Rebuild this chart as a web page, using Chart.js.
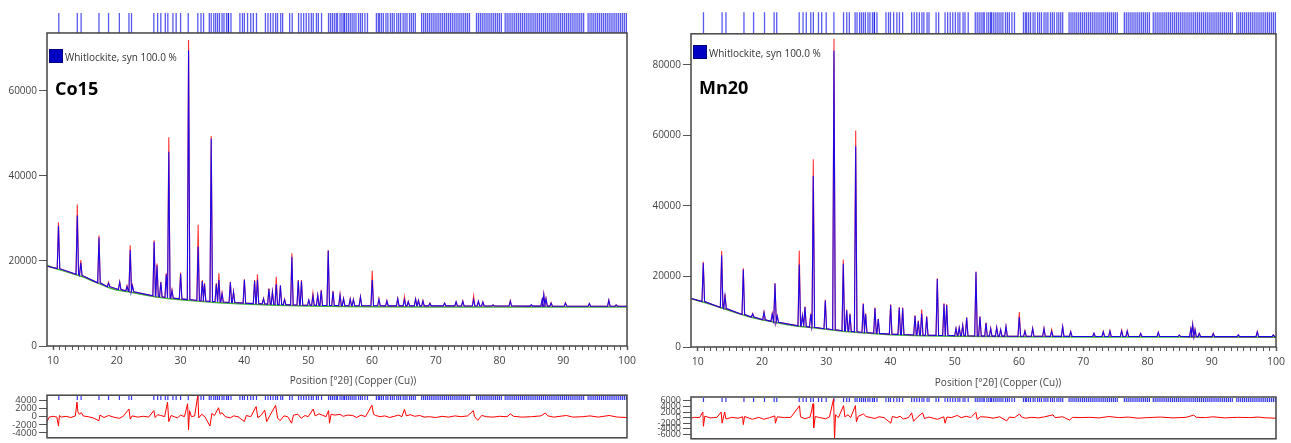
<!DOCTYPE html>
<html>
<head>
<meta charset="utf-8">
<script src="https://cdn.jsdelivr.net/npm/chart.js@4.4.1/dist/chart.umd.min.js"></script>
<style>
  body { margin: 0; background: #fff; }
  #page { position: relative; width: 1291px; height: 443px; overflow: hidden; font-family: 'Open Sans', sans-serif; }
  canvas { position: absolute; }
  .legbox { position: absolute; width: 12px; height: 12px; background: #0000c4; border: 1px solid #00007a; }
  .legtxt { position: absolute; font-size: 10px; color: #333; line-height: 14px; white-space: nowrap; }
  .name { position: absolute; font-size: 18px; font-weight: bold; color: #000; line-height: 22px; }
  .xtitle { position: absolute; font-size: 10px; color: #444; line-height: 14px; white-space: nowrap; transform: translateX(-50%); }
</style>
</head>
<body>
<div id="page">
  <canvas id="coMain" width="640" height="392" style="left:0px;top:0px"></canvas>
  <canvas id="coDiff" width="640" height="53" style="left:0px;top:390px"></canvas>
  <canvas id="mnMain" width="651" height="393" style="left:640px;top:0px"></canvas>
  <canvas id="mnDiff" width="651" height="54" style="left:640px;top:390px"></canvas>

  <div class="legbox" style="left:49px;top:49px"></div>
  <div class="legtxt" style="left:65px;top:50px">Whitlockite, syn 100.0 %</div>
  <div class="name" style="left:55px;top:77px">Co15</div>
  <div class="xtitle" style="left:353px;top:373px">Position [°2θ] (Copper (Cu))</div>

  <div class="legbox" style="left:693px;top:45px"></div>
  <div class="legtxt" style="left:709px;top:46px">Whitlockite, syn 100.0 %</div>
  <div class="name" style="left:699px;top:76px">Mn20</div>
  <div class="xtitle" style="left:998px;top:375px">Position [°2θ] (Copper (Cu))</div>
</div>

<script>
//---------- data

// x axis labels (°2θ)
const xLabels = [10, 20, 30, 40, 50, 60, 70, 80, 90, 100];
const coYTicks = [0, 20000, 40000, 60000];
const mnYTicks = [0, 20000, 40000, 60000, 80000];
const coDiffTicks = [4000, 2000, 0, -2000, -4000];
const mnDiffTicks = [6000, 4000, 2000, 0, -2000, -4000, -6000];

// Whitlockite reflection positions (°2θ)
const refPos = [
  10.9, 13.8, 14.4, 17.2, 18.7, 20.4, 21.9, 22.3, 25.8, 26.4, 26.9, 27.6, 28.0, 28.8, 29.3, 30.0, 31.2, 32.7, 33.2, 33.6,
  34.5, 34.8, 35.2, 35.5, 35.8, 36.1, 36.5, 36.8, 37.2, 37.5, 37.5, 37.9, 39.3, 39.7, 40.0, 40.5, 41.0, 41.4, 41.9,
  43.3, 43.7, 44.1, 44.5, 44.9, 45.2, 45.7, 46.0, 47.1, 47.5, 48.5, 48.9, 49.3, 49.7, 50.1, 50.5, 50.8, 51.3, 51.6, 52.1,
  53.2, 53.5, 53.8, 54.1, 54.4, 54.6, 55.0, 55.3, 55.6, 55.7, 56.0, 56.3, 56.6, 56.9, 57.2, 57.5, 57.9, 58.2, 58.5, 58.9, 59.3,
  60.7, 61.0, 61.2, 61.5, 61.8, 62.2, 62.5, 62.9, 63.2, 63.5, 63.9, 64.2, 64.5, 64.9, 65.2, 65.5, 65.9, 66.2, 66.5, 66.8,
  67.8, 68.1, 68.4, 68.7, 69.0, 69.3, 69.6, 69.9, 70.2, 70.5, 70.8, 71.1, 71.4, 71.7, 72.0, 72.3, 72.6, 72.9, 73.2, 73.5,
  73.8, 74.1, 74.4, 74.7, 75.0, 75.3, 76.4, 76.7, 77.0, 77.3, 77.6, 77.9, 78.2, 78.5, 78.8, 79.1, 79.4, 79.7, 80.0, 80.3,
  80.9, 81.2, 81.5, 81.8, 82.1, 82.4, 82.7, 83.0, 83.3, 83.6, 83.9, 84.2, 84.5, 84.8, 85.1, 85.4, 85.7, 86.0, 86.3, 86.6,
  86.9, 87.2, 87.5, 87.8, 88.1, 88.4, 88.7, 89.0, 89.3, 89.6, 89.9, 90.2, 90.5, 90.8, 91.1, 91.4, 91.7, 92.0, 92.3, 92.6,
  92.9, 93.2, 93.9, 94.2, 94.5, 94.8, 95.1, 95.4, 95.7, 96.0, 96.3, 96.6, 96.9, 97.2, 97.5, 97.8, 98.1, 98.4, 98.7, 99.0,
  99.3, 99.6, 99.9
];

// Co15 peaks: [2θ, observed, calculated, foot]
const coPeaks = [
  [9.05, 18700, 18700, 18700],
  [10.85, 29100, 28300, 18200], [13.8, 33300, 30700, 16870], [14.35, 20200, 19600, 16600], [17.2, 26000, 25500, 14860],
  [18.7, 15000, 14800, 13960], [20.45, 15100, 15000, 13270], [21.6, 14200, 14000, 12980], [22.1, 23700, 22600, 12850],
  [22.45, 14300, 14100, 12750], [25.85, 24900, 24500, 11820], [26.3, 19400, 19000, 11720], [26.9, 15100, 15000, 11600],
  [27.75, 17100, 16800, 11430], [28.15, 49100, 45700, 11360], [28.65, 13200, 13000, 11280], [30.0, 17300, 17000, 11080],
  [31.25, 72000, 69600, 10910], [32.75, 28500, 23400, 10710], [33.4, 15500, 15300, 10640], [33.75, 14800, 14600, 10600],
  [34.8, 49400, 48800, 10500], [35.6, 14800, 14500, 10420], [36.0, 17100, 15500, 10380], [36.5, 12500, 12300, 10340],
  [37.8, 15100, 15000, 10245], [38.3, 12800, 12700, 10210], [40.0, 15700, 15600, 10080], [41.6, 15500, 15300, 9980],
  [42.05, 16900, 15600, 9955], [43.0, 11200, 11100, 9900], [43.85, 13600, 13400, 9850], [44.4, 12800, 12700, 9820],
  [45.0, 16300, 14500, 9780], [45.65, 14300, 14200, 9755], [46.3, 11000, 10900, 9730], [47.45, 21800, 21000, 9680],
  [48.45, 15500, 15400, 9640], [48.95, 15500, 15300, 9620], [50.1, 10800, 10800, 9580], [50.75, 12400, 11800, 9570],
  [51.5, 12000, 11900, 9560], [52.05, 13200, 13000, 9550], [53.15, 22600, 22400, 9540], [53.9, 13000, 12800, 9530],
  [55.0, 12200, 12000, 9500], [55.55, 11200, 11100, 9500], [56.6, 11100, 11000, 9480], [57.1, 11000, 10900, 9480],
  [58.2, 11600, 11500, 9470], [60.05, 17700, 15500, 9460], [61.1, 11100, 11000, 9460], [62.35, 10700, 10600, 9450],
  [64.05, 11200, 11100, 9450], [65.1, 11600, 10900, 9450], [65.7, 10500, 10400, 9450], [66.85, 11100, 11000, 9450],
  [67.3, 10800, 10700, 9450], [68.0, 10700, 10600, 9440], [69.1, 10100, 10000, 9440], [71.4, 10100, 10100, 9430],
  [73.2, 10400, 10400, 9430], [74.25, 10600, 10500, 9420], [75.95, 11800, 10900, 9420], [76.7, 10500, 10500, 9420],
  [77.4, 10400, 10300, 9420], [79.0, 9700, 9650, 9400], [81.7, 10700, 10500, 9400], [85.0, 9700, 9700, 9380],
  [86.7, 11000, 10900, 9380], [86.95, 12200, 12100, 9380], [87.3, 11200, 11100, 9380], [88.1, 10200, 10100, 9380],
  [90.35, 10200, 10100, 9370], [94.1, 10000, 10000, 9360], [97.15, 10800, 10800, 9350], [98.3, 9700, 9650, 9350],
  [100, 9350, 9350, 9350]
];

// Co15 background: [2θ, counts]
const coBg = [
  [9.05, 19000], [10, 18400], [12, 17500], [14, 16600], [15, 16100], [16, 15400], [17, 14800], [18, 14200],
  [19, 13600], [20, 13200], [22, 12700], [24, 12100], [26, 11600], [28, 11200], [30, 10900], [33, 10500],
  [36, 10200], [40, 9900], [45, 9600], [50, 9400], [55, 9300], [60, 9250], [70, 9200], [80, 9200], [90, 9150], [100, 9150]
];

// Co15 difference curve: [2θ, counts]
const coDiff = [
  [9.05, -1200], [9.4, -100], [10.0, 100], [10.6, -100], [10.85, -2300], [11.0, 300], [11.3, -100], [12.0, 100],
  [12.8, -200], [13.5, 200], [13.75, 3600], [13.9, 1200], [14.1, 600], [14.45, 1000], [14.7, 200], [15.5, 0],
  [16.3, -300], [17.2, -1000], [17.35, 400], [18.0, -200], [18.7, 300], [19.5, -100], [20.4, -400], [21.0, 100],
  [21.9, 1900], [22.1, -600], [22.4, 200], [23.3, -100], [24.2, 100], [25.0, -100], [25.8, 1500], [26.0, -200],
  [26.4, 500], [26.9, 300], [27.5, 0], [27.95, 3600], [28.15, -1200], [28.5, 300], [29.0, 0], [29.5, -300],
  [30.0, 400], [30.6, 0], [31.1, 3200], [31.25, -3200], [31.4, 1500], [31.7, 0], [32.2, 200], [32.7, 5300],
  [32.85, -300], [33.3, 600], [33.8, 0], [34.6, -2300], [34.9, 800], [35.3, 300], [35.95, 2200], [36.2, 600],
  [36.5, 1000], [37.0, 0], [37.8, -300], [38.3, 200], [39.0, 0], [40.0, -1200], [40.3, 300], [41.0, 0],
  [41.85, 2500], [42.1, -200], [42.6, 300], [43.2, 1600], [43.5, -1200], [44.0, 300], [44.9, 2800], [45.2, -300],
  [45.6, -1000], [46.2, 200], [46.8, 0], [47.4, -1600], [47.7, 400], [48.4, 600], [48.9, -400], [49.5, 300],
  [50.0, 0], [50.8, 1900], [51.1, 200], [51.7, 700], [52.2, 400], [52.8, 0], [53.2, 1500], [53.35, -1600],
  [53.6, 600], [54.2, 400], [55.0, 600], [55.5, 100], [56.2, 400], [57.0, 300], [57.6, -200], [58.3, 400],
  [59.0, 0], [60.0, 2850], [60.25, 600], [60.6, 300], [61.3, 0], [62.0, 200], [62.8, -200], [63.5, 100],
  [64.2, 400], [64.7, 0], [65.1, 1800], [65.4, 200], [66.0, 500], [66.7, 100], [67.5, 300], [68.2, -100],
  [69.0, 0], [70.0, -200], [71.0, 100], [72.0, -100], [73.0, 200], [74.0, 0], [75.0, 200], [75.9, 1500],
  [76.1, 0], [76.6, -900], [77.2, 300], [78.0, 0], [79.0, -100], [80.0, 100], [81.2, 0], [81.7, 700],
  [82.2, 100], [83.5, -100], [85.0, 0], [86.5, 200], [87.2, 900], [87.6, 200], [88.5, -100], [89.5, 100],
  [90.5, 300], [91.5, -100], [93.0, 0], [94.2, 200], [95.5, -100], [97.2, 300], [98.5, -100], [100, -200]
];

// Mn20 peaks: [2θ, observed, calculated, foot]
const mnPeaks = [
  [8.96, 13700, 13700, 13700],
  [10.87, 24200, 23800, 12870], [13.73, 27300, 26000, 11210], [14.25, 15100, 14500, 10900], [17.1, 22300, 22000, 9200],
  [18.56, 9500, 9400, 8500], [20.32, 9900, 9800, 7740], [21.6, 9500, 9300, 7290], [22.03, 18100, 18000, 7140],
  [22.39, 8800, 8700, 7010], [25.81, 27300, 23400, 6000], [26.3, 9000, 8800, 5900], [26.7, 11500, 11300, 5830],
  [27.6, 9500, 9300, 5670], [27.99, 53200, 48500, 5600], [29.86, 13400, 13200, 5180], [31.21, 87400, 84000, 4910],
  [32.66, 24800, 23600, 4620], [33.19, 10600, 10400, 4520], [33.7, 9500, 9300, 4450], [34.59, 61400, 56900, 4310],
  [35.77, 12400, 12200, 4130], [36.14, 9500, 9300, 4080], [37.59, 11200, 11000, 3920], [38.1, 8000, 7900, 3860],
  [40.03, 12100, 11900, 3650], [41.37, 11300, 11100, 3570], [41.9, 11200, 11000, 3540], [43.82, 9000, 8800, 3420],
  [44.33, 7500, 7300, 3390], [44.86, 10600, 9500, 3360], [45.64, 8700, 8600, 3330], [47.29, 19500, 19300, 3290],
  [48.33, 12400, 12200, 3270], [48.75, 12100, 11900, 3260], [50.2, 5300, 5200, 3220], [50.7, 5500, 5400, 3210],
  [51.24, 6200, 6100, 3200], [51.86, 8400, 8300, 3180], [53.31, 21400, 21200, 3140], [53.93, 8700, 8600, 3130],
  [54.87, 6900, 6800, 3100], [55.6, 5300, 5200, 3090], [56.53, 5600, 5500, 3080], [57.15, 5000, 4900, 3080],
  [57.98, 5900, 5800, 3070], [60.05, 9900, 8500, 3050], [60.93, 4600, 4500, 3045], [62.13, 5300, 5200, 3040],
  [63.89, 5300, 5200, 3030], [65.09, 4900, 4400, 3025], [66.8, 5800, 5700, 3015], [68.05, 4400, 4300, 3010],
  [71.67, 3900, 3900, 2995], [73.12, 4400, 4300, 2990], [74.16, 4600, 4500, 2985], [75.98, 4800, 4500, 2980],
  [76.85, 4600, 4500, 2980], [78.94, 3900, 3800, 2975], [81.68, 4200, 4100, 2965], [84.95, 3400, 3400, 2960],
  [86.75, 5200, 5100, 2955], [87.03, 6500, 6300, 2955], [87.4, 5000, 4900, 2955], [88.06, 3900, 3800, 2955],
  [90.24, 3900, 3800, 2950], [94.13, 3400, 3400, 2940], [97.09, 4400, 4300, 2935], [99.58, 3400, 3400, 2930],
  [100, 2930, 2930, 2930]
];

// Mn20 background: [2θ, counts]
const mnBg = [
  [8.96, 13700], [10, 13200], [12, 12100], [14, 10900], [16, 9700], [17, 9100], [18, 8600], [20, 7700],
  [22, 7000], [24, 6300], [26, 5800], [28, 5450], [30, 5000], [33, 4400], [36, 3950], [40, 3500],
  [45, 3200], [50, 3080], [55, 2950], [60, 2900], [70, 2850], [80, 2820], [90, 2800], [100, 2780]
];

// Mn20 difference curve: [2θ, counts]
const mnDiff = [
  [8.96, -200], [9.5, 100], [10.3, 0], [10.8, 2000], [10.9, -3100], [11.1, 500], [12.0, -100], [13.0, 100],
  [13.65, 2000], [13.8, -2000], [14.2, 2000], [14.4, -500], [15.3, 100], [16.3, -200], [17.0, 300], [17.1, -2500],
  [17.3, 400], [18.5, -600], [19.5, 100], [20.3, -600], [21.2, 0], [22.0, 600], [22.1, -2000], [22.4, 300],
  [23.5, 0], [24.5, 100], [25.85, 4300], [26.0, 300], [26.7, -400], [27.5, 200], [27.95, 5000], [28.05, -3700],
  [28.3, 400], [29.0, 0], [29.9, -400], [30.5, 200], [31.15, 6700], [31.3, -8000], [31.45, 1000], [31.9, 0],
  [32.7, 4300], [32.9, 300], [33.4, 1000], [33.8, 0], [34.55, 4300], [34.7, -1500], [35.0, 500], [35.8, 1300],
  [36.2, 400], [37.0, 0], [37.6, -300], [38.2, 300], [39.0, 0], [40.05, -2000], [40.3, 400], [41.0, 0],
  [41.5, 500], [42.0, -500], [42.8, 0], [43.3, 1700], [43.6, -1300], [44.2, 200], [45.0, 1700], [45.3, -300],
  [46.0, 200], [47.3, -600], [48.3, 300], [48.5, -2000], [48.8, 200], [49.5, 0], [50.4, 800], [51.0, 0],
  [51.8, 500], [52.5, 0], [53.3, 1900], [53.5, -600], [54.0, 300], [55.0, 200], [56.0, -200], [57.0, 300],
  [58.1, -1200], [58.5, 200], [59.3, 0], [60.1, 1300], [60.4, 200], [61.0, -200], [62.0, 100], [63.0, -100],
  [64.0, 300], [65.3, 1000], [65.6, 0], [66.8, 300], [67.9, -900], [68.3, 100], [69.5, 0], [71.0, 100],
  [72.5, -100], [74.0, 400], [75.5, 0], [77.0, 200], [78.5, -200], [80.0, 0], [82.0, 200], [84.0, -100],
  [86.0, 100], [87.2, 900], [87.6, 100], [89.0, 0], [90.2, 300], [92.0, -100], [94.0, 100], [96.0, 0],
  [97.2, 200], [98.5, -100], [100, -200]
];

//---------- drawing

Chart.defaults.font.family = "'Open Sans', sans-serif";
Chart.defaults.color = '#444';

const FOOT = 0.2;   // half width of a peak foot, °2θ

// each peak becomes foot - top - foot
function profile(peaks, col) {
  const pts = [];
  peaks.forEach(p => {
    pts.push({x: p[0] - FOOT, y: p[3]}, {x: p[0], y: p[col]}, {x: p[0] + FOOT, y: p[3]});
  });
  return pts;
}

function pairs(list) {
  return list.map(p => ({x: p[0], y: p[1]}));
}

// box around the plot (from frameTop value down to the x axis)
const framePlugin = {
  id: 'frame',
  afterDatasetsDraw(chart, args, opts) {
    const a = chart.chartArea;
    const top = opts.top != null ? chart.scales.y.getPixelForValue(opts.top) : a.top;
    const ctx = chart.ctx;
    ctx.save();
    ctx.strokeStyle = '#454545';
    ctx.lineWidth = 1.5;
    ctx.strokeRect(a.left, top, a.right - a.left, a.bottom - top);
    ctx.restore();
  }
};

function xScale(min, display) {
  return {
    type: 'linear', min: min, max: 100, display: display,
    border: {display: false},
    grid: {drawOnChartArea: false, tickLength: 4, tickColor: '#555',
      tickWidth: c => xLabels.includes(c.tick && c.tick.value) ? 1.5 : 1},
    ticks: {autoSkip: false, maxRotation: 0, padding: 5, color: '#444', font: {size: 10.5},
      callback: v => xLabels.includes(v) ? String(v) : ''},
    afterBuildTicks: s => {
      const t = [];
      for (let v = 10; v <= 100; v++) t.push({value: v});
      s.ticks = t;
    },
    afterFit: s => { s.height = display ? 46 : 0; s.paddingLeft = 0; s.paddingRight = 0; }
  };
}

function yScale(min, max, ticks, width, size) {
  return {
    type: 'linear', min: min, max: max,
    border: {display: false},
    grid: {drawOnChartArea: false, tickLength: 8, tickColor: '#555'},
    ticks: {autoSkip: false, padding: 2, color: '#444', font: {size: size}, callback: v => String(v)},
    afterBuildTicks: s => { s.ticks = ticks.map(v => ({value: v})); },
    afterFit: s => { s.width = width; s.paddingTop = 0; s.paddingBottom = 0; }
  };
}

function mainChart(id, o) {
  return new Chart(document.getElementById(id), {
    type: 'scatter',
    data: {
      datasets: [
        {data: profile(o.peaks, 2), showLine: true, borderColor: 'rgba(0,0,255,0.88)', borderWidth: 1.1, pointRadius: 0},
        {data: profile(o.peaks, 1), showLine: true, borderColor: 'rgba(255,0,0,0.8)', borderWidth: 1.1, pointRadius: 0},
        {data: pairs(o.bg), showLine: true, borderColor: '#40b040', borderWidth: 1.5, pointRadius: 0},
        {data: refPos.map(p => ({x: p, y: o.bandY})), showLine: false,
          pointStyle: 'line', pointRotation: 90, pointRadius: o.bandR,
          pointBorderColor: 'rgba(10,10,230,0.68)', pointBorderWidth: 1.3}
      ]
    },
    options: {
      responsive: false, animation: false, events: [],
      layout: {padding: {left: 0, right: o.padRight, top: o.padTop, bottom: 0}},
      plugins: {legend: {display: false}, tooltip: {enabled: false}, frame: {top: o.frameTop}},
      scales: {x: xScale(o.xMin, true), y: yScale(0, o.yMax, o.yTicks, o.yWidth, 10)}
    },
    plugins: [framePlugin]
  });
}

function diffChart(id, o) {
  return new Chart(document.getElementById(id), {
    type: 'scatter',
    data: {
      datasets: [
        {data: pairs(o.diff), showLine: true, borderColor: 'rgb(255,0,0)', borderWidth: 1, pointRadius: 0},
        {data: refPos.map(p => ({x: p, y: o.bandY})), showLine: false,
          pointStyle: 'line', pointRotation: 90, pointRadius: 2,
          pointBorderColor: 'rgba(20,20,235,0.85)', pointBorderWidth: 1.2}
      ]
    },
    options: {
      responsive: false, animation: false, events: [],
      layout: {padding: {left: 0, right: o.padRight, top: o.padTop, bottom: 2}},
      plugins: {legend: {display: false}, tooltip: {enabled: false}, frame: {}},
      scales: {x: xScale(o.xMin, false), y: yScale(o.yMin, o.yMax, o.yTicks, o.yWidth, o.font)}
    },
    plugins: [framePlugin]
  });
}

mainChart('coMain', {peaks: coPeaks, bg: coBg, xMin: 9.05, yMax: 78350, yTicks: coYTicks,
  frameTop: 73650, bandY: 76000, bandR: 10, padTop: 13, padRight: 13, yWidth: 47});
diffChart('coDiff', {diff: coDiff, xMin: 9.05, yMin: -5200, yMax: 5300, yTicks: coDiffTicks,
  bandY: 4600, padTop: 4, padRight: 13, yWidth: 47, font: 9.5});

mainChart('mnMain', {peaks: mnPeaks, bg: mnBg, xMin: 8.96, yMax: 94900, yTicks: mnYTicks,
  frameTop: 88800, bandY: 91850, bandR: 11, padTop: 7, padRight: 15, yWidth: 51});
diffChart('mnDiff', {diff: mnDiff, xMin: 8.96, yMin: -7600, yMax: 7400, yTicks: mnDiffTicks,
  bandY: 6300, padTop: 7, padRight: 15, yWidth: 51, font: 9});
</script>
</body>
</html>
